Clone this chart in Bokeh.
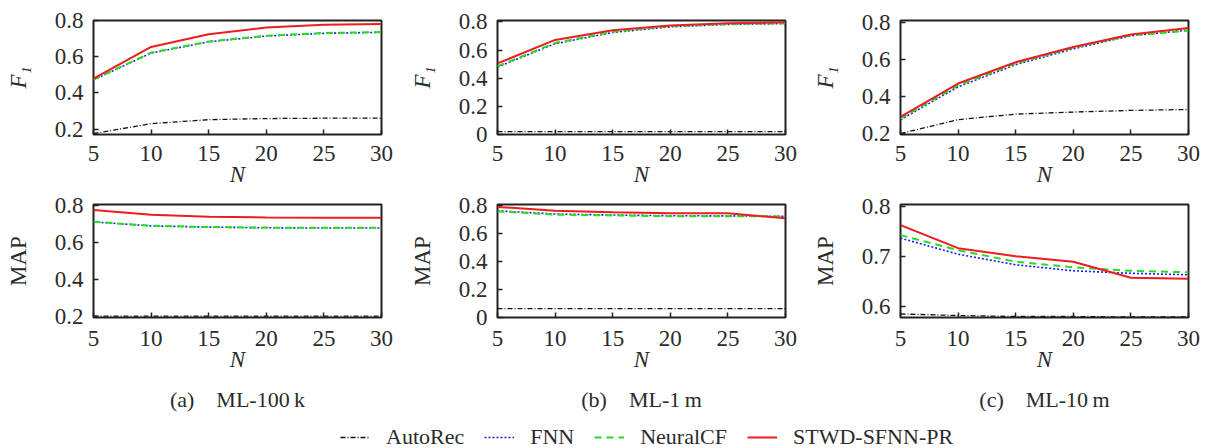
from bokeh.plotting import figure
from bokeh.layouts import column, row
from bokeh.models import Range1d, FixedTicker, Legend, LegendItem
from bokeh.embed import file_html
from bokeh.resources import INLINE
from bokeh.core.properties import value

# ---------------- data ----------------
N = [5, 10, 15, 20, 25, 30]
x_ticks = [5, 10, 15, 20, 25, 30]
x_title = "N"
series_names = ["AutoRec", "FNN", "NeuralCF", "STWD-SFNN-PR"]
captions = ["(a)\u2002\u2002ML-100\u2009k", "(b)\u2002\u2002ML-1\u2009m", "(c)\u2002\u2002ML-10\u2009m"]

# ML-100k
f1_100k_autorec = [0.175, 0.230, 0.252, 0.258, 0.260, 0.260]
f1_100k_fnn = [0.472, 0.620, 0.682, 0.714, 0.729, 0.735]
f1_100k_neuralcf = [0.474, 0.622, 0.684, 0.716, 0.731, 0.736]
f1_100k_stwd = [0.479, 0.654, 0.724, 0.761, 0.776, 0.780]
map_100k_autorec = [0.203, 0.202, 0.202, 0.202, 0.202, 0.202]
map_100k_fnn = [0.712, 0.690, 0.684, 0.680, 0.679, 0.679]
map_100k_neuralcf = [0.713, 0.691, 0.684, 0.681, 0.680, 0.680]
map_100k_stwd = [0.776, 0.750, 0.740, 0.736, 0.735, 0.735]

# ML-1m
f1_1m_autorec = [0.020, 0.020, 0.020, 0.020, 0.020, 0.020]
f1_1m_fnn = [0.480, 0.645, 0.725, 0.765, 0.782, 0.788]
f1_1m_neuralcf = [0.485, 0.650, 0.730, 0.770, 0.785, 0.790]
f1_1m_stwd = [0.505, 0.672, 0.740, 0.775, 0.790, 0.797]
map_1m_autorec = [0.063, 0.063, 0.063, 0.063, 0.063, 0.063]
map_1m_fnn = [0.760, 0.737, 0.730, 0.725, 0.724, 0.720]
map_1m_neuralcf = [0.756, 0.733, 0.727, 0.722, 0.722, 0.720]
map_1m_stwd = [0.788, 0.760, 0.749, 0.742, 0.742, 0.707]

# ML-10m
f1_10m_autorec = [0.200, 0.275, 0.305, 0.316, 0.325, 0.330]
f1_10m_fnn = [0.275, 0.452, 0.572, 0.657, 0.728, 0.758]
f1_10m_neuralcf = [0.280, 0.460, 0.578, 0.663, 0.730, 0.755]
f1_10m_stwd = [0.290, 0.470, 0.585, 0.667, 0.735, 0.770]
map_10m_autorec = [0.585, 0.582, 0.580, 0.580, 0.579, 0.579]
map_10m_fnn = [0.736, 0.704, 0.683, 0.671, 0.666, 0.663]
map_10m_neuralcf = [0.742, 0.712, 0.689, 0.678, 0.671, 0.668]
map_10m_stwd = [0.762, 0.716, 0.700, 0.689, 0.657, 0.655]

# ---------------- styles ----------------
FONT = "Liberation Serif"
TXT = "#2b2b2b"
styles = [
    dict(color="#111111", line_dash="5 2 1 2", line_width=1.3),
    dict(color="#1a1aee", line_dash="2 2", line_width=1.6),
    dict(color="#22dd22", line_dash="7 5", line_width=2.0),
    dict(color="#ee1c1c", line_dash="solid", line_width=2.0),
]

FRAME_W = 288
BORDER_L = 93
BORDER_R = [23, 22, 16]


def panel(ys, yr, yticks, ylabel, italic, col, top_row):
    if top_row:
        bt, fh, bb = 20, 114, 60
    else:
        bt, fh, bb = 10, 113, 62
    w = BORDER_L + FRAME_W + BORDER_R[col]
    h = bt + fh + bb
    p = figure(width=w, height=h, x_range=Range1d(5, 30), y_range=Range1d(*yr),
               toolbar_location=None, output_backend="svg",
               min_border_left=BORDER_L, min_border_right=BORDER_R[col],
               min_border_top=bt, min_border_bottom=bb)
    p.grid.visible = False
    p.outline_line_color = "#222222"
    p.outline_line_width = 2
    for y, st in zip(ys, styles):
        p.line(N, y, **st)
    p.xaxis.ticker = FixedTicker(ticks=x_ticks)
    p.yaxis.ticker = FixedTicker(ticks=yticks)
    p.yaxis.major_label_overrides = {0: "0"}
    for ax in (p.xaxis, p.yaxis):
        ax.axis_line_color = None
        ax.major_tick_in = 5
        ax.major_tick_out = 0
        ax.major_tick_line_color = "#222222"
        ax.major_tick_line_width = 1.5
        ax.minor_tick_line_color = None
        ax.major_label_text_font = FONT
        ax.major_label_text_font_size = "23px"
        ax.major_label_text_color = TXT
        ax.axis_label_text_font = FONT
        ax.axis_label_text_font_size = "23px"
        ax.axis_label_text_color = TXT
    p.xaxis.axis_label = x_title
    p.xaxis.axis_label_text_font_style = "italic"
    p.xaxis.major_label_standoff = 11 if top_row else 13
    p.xaxis.axis_label_standoff = -2 if top_row else -2
    p.yaxis.axis_label = ylabel
    p.yaxis.axis_label_text_font_style = "italic" if italic else "normal"
    p.yaxis.major_label_standoff = 10
    p.yaxis.axis_label_standoff = 21
    return p


top = [
    panel([f1_100k_autorec, f1_100k_fnn, f1_100k_neuralcf, f1_100k_stwd],
          (0.17, 0.80), [0.2, 0.4, 0.6, 0.8], "F\u2081", True, 0, True),
    panel([f1_1m_autorec, f1_1m_fnn, f1_1m_neuralcf, f1_1m_stwd],
          (0.0, 0.81), [0, 0.2, 0.4, 0.6, 0.8], "F\u2081", True, 1, True),
    panel([f1_10m_autorec, f1_10m_fnn, f1_10m_neuralcf, f1_10m_stwd],
          (0.195, 0.81), [0.2, 0.4, 0.6, 0.8], "F\u2081", True, 2, True),
]
bottom = [
    panel([map_100k_autorec, map_100k_fnn, map_100k_neuralcf, map_100k_stwd],
          (0.195, 0.806), [0.2, 0.4, 0.6, 0.8], "MAP", False, 0, False),
    panel([map_1m_autorec, map_1m_fnn, map_1m_neuralcf, map_1m_stwd],
          (0.0, 0.805), [0, 0.2, 0.4, 0.6, 0.8], "MAP", False, 1, False),
    panel([map_10m_autorec, map_10m_fnn, map_10m_neuralcf, map_10m_stwd],
          (0.578, 0.803), [0.6, 0.7, 0.8], "MAP", False, 2, False),
]

# ---------------- captions + legend ----------------
BW, BH = 1204, 69
pb = figure(width=BW, height=BH, x_range=Range1d(0, BW), y_range=Range1d(0, BH),
            toolbar_location=None, output_backend="svg", min_border=0,
            x_axis_location=None, y_axis_location=None)
pb.grid.visible = False
pb.outline_line_color = None

cap_x = []
left = 0
for c in range(3):
    cap_x.append(left + BORDER_L + FRAME_W / 2)
    left += BORDER_L + FRAME_W + BORDER_R[c]
pb.text(x=cap_x, y=[BH - 19.5] * 3, text=captions, text_font=value(FONT),
        text_font_size="22px", text_align="center", text_baseline="middle",
        text_color=TXT)

# legend proxies: the series drawn on a hidden range (off the visible frame)
pb.extra_y_ranges = {"hidden": Range1d(100, 101)}
proxy_series = [f1_100k_autorec, f1_100k_fnn, f1_100k_neuralcf, f1_100k_stwd]
items = []
for name, st, ys in zip(series_names, styles, proxy_series):
    r = pb.line(x=N, y=ys, y_range_name="hidden", **st)
    items.append(LegendItem(label=name, renderers=[r]))
legend = Legend(items=items, orientation="horizontal", location=(340, -2),
                padding=0, margin=0, spacing=20, label_standoff=16,
                glyph_width=30, glyph_height=20,
                label_text_font=FONT, label_text_font_size="22px",
                label_text_color=TXT, border_line_color=None,
                background_fill_alpha=0)
pb.add_layout(legend)

layout = column(row(*top), row(*bottom), pb)
open("out.html", "w").write(file_html(layout, INLINE))
